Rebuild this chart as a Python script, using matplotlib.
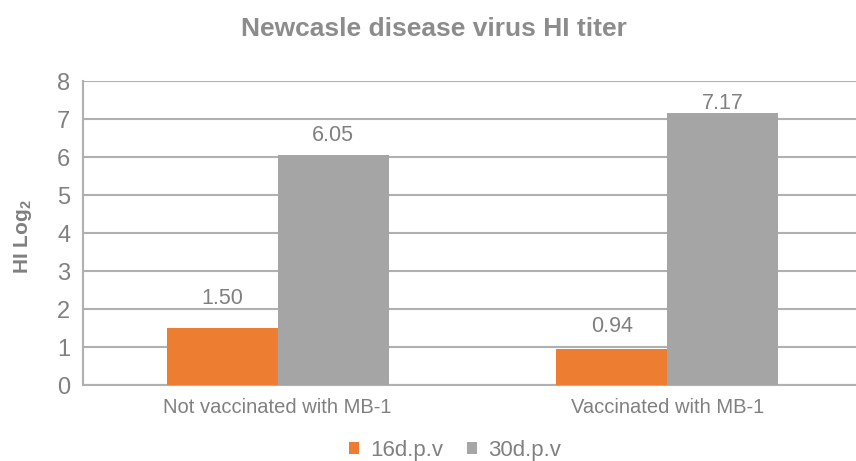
import matplotlib
matplotlib.use("Agg")
import matplotlib.pyplot as plt
import numpy as np

categories = ["Not vaccinated with MB-1", "Vaccinated with MB-1"]
series_names = ["16d.p.v", "30d.p.v"]
values_16 = [1.50, 0.94]
values_30 = [6.05, 7.17]
yticks = [0, 1, 2, 3, 4, 5, 6, 7, 8]

plt.rcParams['font.family'] = ['Liberation Sans', 'DejaVu Sans']
plt.rcParams['mathtext.default'] = 'regular'
txt = '#808080'
grid_c = '#b0b0b0'

fig = plt.figure(figsize=(8.56, 4.61), dpi=100)
ax = fig.add_axes([83/856, 1-385/461, 1-83/856, (385-81)/461])

x = np.arange(len(categories))
w = 0.285
b1 = ax.bar(x - w/2, values_16, w, color='#ED7D31', label=series_names[0], zorder=3)
b2 = ax.bar(x + w/2, values_30, w, color='#A5A5A5', label=series_names[1], zorder=3)

# label offsets (pixels above bar top, to label centre)
gaps = [[30, 23], [20, 9.5]]
for bars, vals, g in [(b1, values_16, gaps[0]), (b2, values_30, gaps[1])]:
    for rect, v, gg in zip(bars, vals, g):
        ax.annotate(f"{v:.2f}", (rect.get_x() + rect.get_width()/2, v),
                    xytext=(0, gg*0.72), textcoords='offset points',
                    ha='center', va='center', fontsize=15.5, color=txt, zorder=4)

ax.set_xlim(-0.5, 1.485)
ax.set_ylim(0, 8)
ax.set_yticks(yticks)
ax.set_xticks(x)
ax.set_xticklabels(categories)
ax.yaxis.grid(True, color=grid_c, linewidth=1.5, zorder=0)
ax.set_axisbelow(True)
for s in ['top', 'right']:
    ax.spines[s].set_visible(False)
for s in ['left', 'bottom']:
    ax.spines[s].set_color(grid_c)
    ax.spines[s].set_linewidth(1.5)
ax.tick_params(axis='y', length=0, labelsize=17, labelcolor=txt, pad=9)
ax.tick_params(axis='x', length=0, labelsize=14.5, labelcolor=txt, pad=9)

fig.text(23/856, 1-237/461, "HI Log$_2$", rotation=90, ha='center', va='center',
         fontsize=15, fontweight='bold', color=txt)

fig.text(434/856, 1-29/461, "Newcasle disease virus HI titer", ha='center', va='center',
         fontsize=19, fontweight='bold', color='#8c8c8c')

fig.legend(handles=[b1, b2], labels=series_names, loc='center', bbox_to_anchor=(455/856, 1-450/461),
           ncol=2, frameon=False, fontsize=16, labelcolor=txt, handlelength=0.45,
           handleheight=0.45, columnspacing=1.1, handletextpad=0.5)

fig.savefig("out.png", dpi=100)
